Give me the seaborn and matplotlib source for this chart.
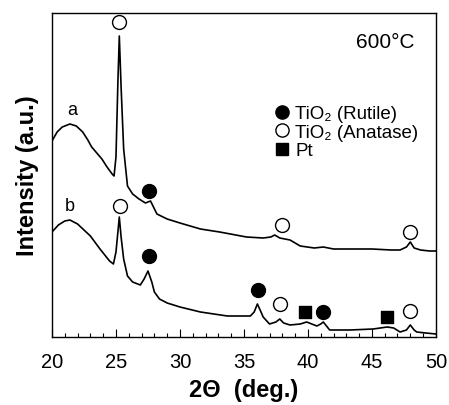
import matplotlib
matplotlib.use("Agg")
import matplotlib.pyplot as plt
from matplotlib.lines import Line2D
import seaborn as sns

sns.set_theme(style="white")
plt.rcParams['font.family'] = ['Liberation Sans', 'DejaVu Sans']
plt.rcParams['text.color'] = 'black'
plt.rcParams['axes.labelcolor'] = 'black'
plt.rcParams['xtick.color'] = 'black'
plt.rcParams['ytick.color'] = 'black'

# Curve a (upper), intensity in arbitrary units (0..324)
a_x = [20.0, 20.4, 20.8, 21.4, 21.9, 22.4, 22.8, 23.1, 23.5, 23.9, 24.3, 24.7, 24.85, 25.0, 25.15, 25.26,
       25.4, 25.6, 25.9, 26.3, 26.8, 27.3, 27.7, 28.2, 29.0, 30.0, 31.6, 33.1, 35.2, 36.5, 37.1, 37.4,
       37.8, 38.2, 38.6, 39.4, 40.5, 41.2, 42.0, 43.5, 45.0, 46.5, 47.2, 47.7, 48.0, 48.3, 48.8, 49.5, 50.0]
a_y = [196, 205, 210, 213, 211, 205, 197, 190, 184, 178, 170, 163, 161, 180, 255, 301,
       250, 188, 151, 143, 138, 134, 136, 123, 118, 114, 108, 105, 100, 99, 100, 102,
       99, 98, 97, 91, 89, 90, 88, 88, 88, 87, 87, 90, 95, 89, 87, 86, 86]

# Curve b (lower)
b_x = [20.0, 20.5, 21.0, 21.4, 22.0, 23.0, 23.75, 24.5, 24.8, 25.0, 25.15, 25.26, 25.4, 25.6, 25.9,
       26.3, 26.9, 27.2, 27.5, 27.8, 28.0, 28.4, 29.0, 30.0, 31.6, 33.7, 35.5, 35.8, 36.05, 36.3, 36.5,
       37.0, 37.5, 37.8, 38.1, 38.6, 39.4, 39.9, 40.7, 41.0, 41.2, 41.7, 43.3, 45.1, 46.2, 46.7, 47.2,
       47.7, 48.0, 48.3, 48.5, 49.2, 50.0]
b_y = [105, 112, 116, 117, 113, 101, 88, 76, 73, 85, 105, 120, 100, 78, 61,
       55, 52, 58, 66, 55, 45, 38, 34, 30, 25, 21, 21, 25, 33, 26, 20,
       13, 15, 18, 14, 12, 13, 15, 11, 13, 15, 7, 7, 8, 10, 9, 5,
       7, 12, 7, 5, 4, 3]

# Phase markers: (x, intensity)
rutile_x = [27.6, 27.6, 36.1, 41.2]
rutile_y = [146, 81, 47, 25]
anatase_x = [25.26, 38.0, 48.0, 25.3, 37.8, 48.0]
anatase_y = [315, 112, 105, 131, 33, 26]
pt_x = [39.8, 46.2]
pt_y = [25, 20]

xticks = [20, 25, 30, 35, 40, 45, 50]
legend_labels = ['TiO\u2082 (Rutile)', 'TiO\u2082 (Anatase)', 'Pt']

fig = plt.figure(figsize=(4.49, 4.06), dpi=100)
ax = fig.add_axes([0.1158, 0.1675, 0.855, 0.798])

sns.lineplot(x=a_x, y=a_y, ax=ax, color='black', lw=1.2, sort=False, estimator=None)
sns.lineplot(x=b_x, y=b_y, ax=ax, color='black', lw=1.2, sort=False, estimator=None)

ms = 100
sns.scatterplot(x=rutile_x, y=rutile_y, ax=ax, marker='o', s=ms, color='black', edgecolor='black', linewidth=1, zorder=5)
sns.scatterplot(x=anatase_x, y=anatase_y, ax=ax, marker='o', s=ms, facecolor='white', edgecolor='black', linewidth=1, zorder=5)
sns.scatterplot(x=pt_x, y=pt_y, ax=ax, marker='s', s=85, color='black', edgecolor='black', linewidth=1, zorder=5)

ax.set_xlim(20, 50)
ax.set_ylim(0, 324)
ax.set_xticks(xticks)
ax.set_xticklabels([str(t) for t in xticks], fontsize=14.5)
ax.set_xticks([x for x in range(20, 51) if x % 5 != 0], minor=True)
ax.set_yticks([])
ax.tick_params(axis='x', which='major', direction='in', length=6, width=0.8, bottom=True, top=False, pad=11, colors='black')
ax.tick_params(axis='x', which='minor', direction='in', length=3, width=0.8, bottom=True, top=False, colors='black')
for s in ax.spines.values():
    s.set_color('black')
    s.set_linewidth(1.0)

ax.set_xlabel('2\u0398  (deg.)', fontsize=17, fontweight='bold', labelpad=5, color='black')
ax.set_ylabel('Intensity (a.u.)', fontsize=17, fontweight='bold', labelpad=9, color='black')

ax.text(21.56, 228, 'a', fontsize=13, ha='center', va='center', color='black')
ax.text(21.4, 131, 'b', fontsize=13, ha='center', va='center', color='black')
ax.text(48.36, 296, '600\u00b0C', fontsize=15, ha='right', va='center', color='black')

handles = [
    Line2D([], [], marker='o', ls='none', markersize=9.5, markerfacecolor='black', markeredgecolor='black'),
    Line2D([], [], marker='o', ls='none', markersize=9.5, markerfacecolor='white', markeredgecolor='black'),
    Line2D([], [], marker='s', ls='none', markersize=8.5, markerfacecolor='black', markeredgecolor='black'),
]
leg = ax.legend(handles, legend_labels, loc='upper left', bbox_to_anchor=(0.5745, 0.716), frameon=False,
                fontsize=13.5, handlelength=1.0, handletextpad=0.2, labelspacing=0.08, borderpad=0, borderaxespad=0)
for t in leg.get_texts():
    t.set_color('black')

fig.savefig('out.png', dpi=100)
